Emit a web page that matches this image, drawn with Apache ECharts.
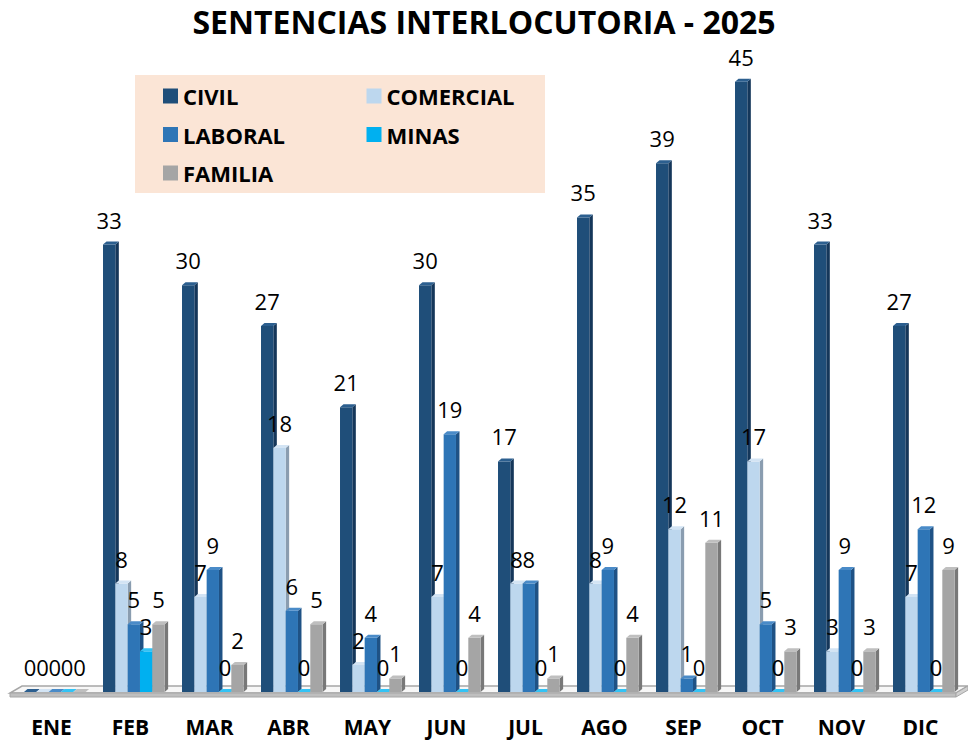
<!DOCTYPE html>
<html><head><meta charset="utf-8">
<script src="https://cdn.jsdelivr.net/npm/echarts@6/dist/echarts.min.js"></script>
<style>html,body{margin:0;padding:0;background:#fff}#c{width:968px;height:744px}</style>
</head><body><div id="c"></div>
<script>
const categories = ['ENE','FEB','MAR','ABR','MAY','JUN','JUL','AGO','SEP','OCT','NOV','DIC'];
const civil     = [0,33,30,27,21,30,17,35,39,45,33,27];
const comercial = [0,8,7,18,2,7,8,8,12,17,3,7];
const laboral   = [0,5,9,6,4,19,8,9,1,5,9,12];
const minas     = [0,3,0,0,0,0,0,0,0,0,0,0];
const familia   = [0,5,2,5,1,4,1,4,11,3,3,9];
const seriesNames = ['CIVIL','COMERCIAL','LABORAL','MINAS','FAMILIA'];
const seriesData = [civil, comercial, laboral, minas, familia];

const faces = [
  {front:'#1F4E79', side:'#15375a', top:'#2c5f8f'},
  {front:'#BDD7EE', side:'#8a9db0', top:'#d3e4f4'},
  {front:'#2E75B6', side:'#1f5285', top:'#4a8bc8'},
  {front:'#00B0F0', side:'#0083b3', top:'#33c3f5'},
  {front:'#A5A5A5', side:'#787878', top:'#bfbfbf'}
];
const FONT = '"Open Sans", "Liberation Sans", sans-serif';

function makeRender(si){
  return function(params, api){
    const idx = api.value(0), v = api.value(1);
    const base = api.coord([idx, 0]);
    const top = api.coord([idx, v]);
    const band = api.size([1, 0])[0];
    const w = band * 0.156;
    const x0 = base[0] - band * 0.348 + si * w;
    const x1 = x0 + w;
    const yb = base[1], yt = top[1];
    const d = 3.5, dy = 3;
    const c = faces[si];
    return {
      type: 'group',
      children: [
        {type:'polygon', shape:{points:[[x1,yt],[x1+d,yt-dy],[x1+d,yb-dy],[x1,yb]]}, style:{fill:c.side}},
        {type:'rect', shape:{x:x0, y:yt, width:w, height:Math.max(0,yb-yt)}, style:{fill:c.front}},
        {type:'polygon', shape:{points:[[x0,yt],[x0+d,yt-dy],[x1+d,yt-dy],[x1,yt]]}, style:{fill:c.top}},
        {type:'text', x:(x0+x1)/2, y:yt-25, z2:10, style:{text:String(v), fontSize:22, fontFamily:FONT, fill:'#000', align:'center', verticalAlign:'middle'}}
      ]
    };
  };
}

const chart = echarts.init(document.getElementById('c'), null, {renderer:'svg'});
chart.setOption({
  animation: false,
  backgroundColor: '#fff',
  title: {
    text: 'SENTENCIAS INTERLOCUTORIA - 2025',
    left: 'center', top: 0,
    textStyle: {fontFamily: FONT, fontWeight: 'bold', fontSize: 32, color: '#000'}
  },
  graphic: [
    {type:'rect', left:135, top:75, z:-10, shape:{width:410, height:118}, style:{fill:'#FBE5D6'}},
    {type:'polygon', z:-5, shape:{points:[[10,693],[956,693],[968,686],[22,686]]}, style:{fill:'#f7f7f7', stroke:'#a6a6a6', lineWidth:1.5}},
    {type:'polygon', z:-5, shape:{points:[[10,693],[956,693],[956,697],[10,697]]}, style:{fill:'#bfbfbf', stroke:'#a6a6a6', lineWidth:1}},
    {type:'polygon', z:-5, shape:{points:[[956,693],[968,686],[968,690],[956,697]]}, style:{fill:'#d0d0d0', stroke:'#a6a6a6', lineWidth:1}}
  ],
  legend: {
    left: 163, top: 85, width: 400, padding: 0,
    itemWidth: 15, itemHeight: 15, itemGap: 16.5,
    icon: 'rect',
    data: seriesNames,
    textStyle: {fontFamily: FONT, fontWeight: 'bold', fontSize: 22, color: '#000', width: 167, lineHeight: 22}
  },
  grid: {left: 12, right: 8, top: 14, bottom: 52},
  xAxis: {
    type: 'category', data: categories,
    axisLine: {show: false}, axisTick: {show: false},
    axisLabel: {margin: 24, fontFamily: FONT, fontWeight: 'bold', fontSize: 21, color: '#000'}
  },
  yAxis: {type: 'value', min: 0, max: 50, show: false, splitLine: {show: false}},
  series: seriesNames.map((n, si) => ({
    type: 'custom', name: n,
    itemStyle: {color: faces[si].front},
    renderItem: makeRender(si),
    encode: {x: 0, y: 1},
    data: seriesData[si].map((v, i) => [i, v])
  }))
});
</script></body></html>
